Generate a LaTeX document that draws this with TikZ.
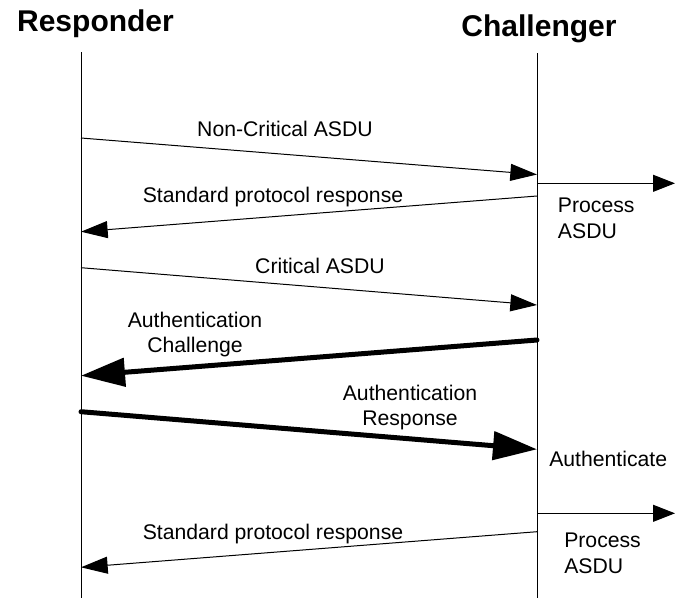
\documentclass[tikz,border=0pt]{standalone}
\usepackage{fontspec}
\setmainfont{Liberation Sans}
\usetikzlibrary{arrows.meta,positioning}

\tikzset{
    life/.style={line width=0.75pt},
    title/.style={font=\bfseries\fontsize{22.5}{27}\selectfont, anchor=base},
    lbl/.style={anchor=base, align=center},
    side/.style={anchor=base west, align=left, inner sep=0pt},
    msg/.style={line width=0.75pt, -{Triangle[length=20pt,width=12.75pt]}},
    proc/.style={line width=0.75pt, -{Triangle[length=16.5pt,width=12.75pt]}},
    bigmsg/.style={line width=3.75pt, line cap=round, -{Triangle[length=33pt,width=21pt]}}
}

\begin{document}
\begin{tikzpicture}[x=0.75pt, y=-0.75pt, font=\fontsize{15.9}{18.9}\selectfont]
        \useasboundingbox (0,0) rectangle (675,601);

        % lifelines
        \coordinate (r0) at (81,52);
        \coordinate (r1) at (81,598);
        \coordinate (c0) at (537,53);
        \coordinate (c1) at (537,598);
        \draw[life] (r0) -- (r1);
        \draw[life] (c0) -- (c1);

        \node[title] (resp) at (95.5,31.7) {Responder};
        \node[title] (chal) at (539,36.7) {Challenger};

        % non-critical request
        \coordinate (a1) at (81,138);
        \coordinate (b1) at (537,174.5);
        \node[lbl] (nc) at (285,136.7) {Non-Critical ASDU};
        \draw[msg] (a1) -- (b1);

        \coordinate (b2) at (537,183.3);
        \coordinate (e2) at (675,183.3);
        \node[side] (p1) at (557.7,238) {Process\\ASDU};
        \draw[proc] (b2) -- (e2);

        \coordinate (b3) at (537,196);
        \coordinate (a3) at (81,231.7);
        \node[lbl] (sr1) at (273,202.7) {Standard protocol response};
        \draw[msg] (b3) -- (a3);

        % critical request
        \coordinate (a4) at (81,267.7);
        \coordinate (b4) at (537,305);
        \node[lbl] (ca) at (320,273.5) {Critical ASDU};
        \draw[msg] (a4) -- (b4);

        \coordinate (b5) at (537,340);
        \coordinate (a5) at (81,375.7);
        \node[lbl] (ac) at (195,352.7) {Authentication\\Challenge};
        \draw[bigmsg] (b5) -- (a5);

        \coordinate (a6) at (81,411.7);
        \coordinate (b6) at (537,449.3);
        \node[lbl] (ar) at (410,425.5) {Authentication\\Response};
        \draw[bigmsg] (a6) -- (b6);

        \node[side] (au) at (549,466) {Authenticate};

        \coordinate (b7) at (537,513.3);
        \coordinate (e7) at (675,513.3);
        \node[side] (p2) at (564,573) {Process\\ASDU};
        \draw[proc] (b7) -- (e7);

        \coordinate (b8) at (537,531.7);
        \coordinate (a8) at (81,567.3);
        \node[lbl] (sr2) at (273,539.3) {Standard protocol response};
        \draw[msg] (b8) -- (a8);

\end{tikzpicture}
\end{document}
